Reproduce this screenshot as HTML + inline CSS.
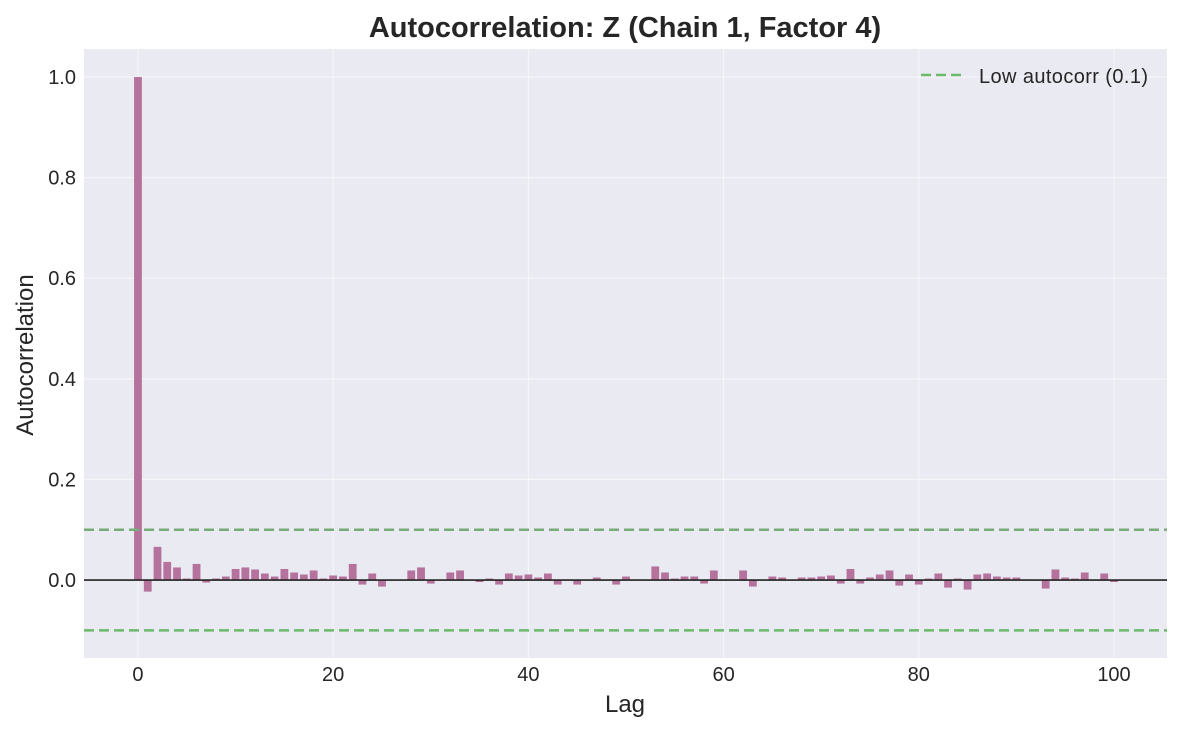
<!DOCTYPE html>
<html><head><meta charset="utf-8"><style>
body{margin:0;background:#fff;font-family:"Liberation Sans",sans-serif}
svg text{font-family:"Liberation Sans",sans-serif;fill:#262626}
</style></head><body>
<svg id="chart" width="1182" height="732" viewBox="0 0 1182 732" xmlns="http://www.w3.org/2000/svg">
<rect x="84" y="49" width="1083" height="609" fill="#eaeaf2"/>
<g id="grid"></g>
<g id="bars"></g>
<g id="ref"></g>
<g id="ticks"></g>
<text x="625" y="37" text-anchor="middle" font-size="29" font-weight="bold">Autocorrelation: Z (Chain 1, Factor 4)</text>
<text x="625" y="712" text-anchor="middle" font-size="24">Lag</text>
<text transform="translate(33,355) rotate(-90)" text-anchor="middle" font-size="24">Autocorrelation</text>
<g>
<line x1="921" y1="75" x2="963" y2="75" stroke="#6cb96c" stroke-width="2.5" stroke-dasharray="10,5"/>
<text x="979" y="83" font-size="20" textLength="169">Low autocorr (0.1)</text>
</g>
</svg>
<script>
const lags = Array.from({length:101},(_, i)=>i);
const acf = [1.0,-0.023,0.066,0.036,0.025,0.003,0.032,-0.005,0.003,0.007,0.022,0.025,0.021,0.013,0.007,0.022,0.015,0.011,0.019,0.003,0.009,0.007,0.032,-0.009,0.013,-0.013,
-0.001,0,0.019,0.025,-0.007,0,0.015,0.019,0.001,-0.004,0.003,-0.009,0.013,0.009,0.011,0.005,0.013,-0.009,0,-0.009,0,0.005,0.001,-0.009,0.007,0.001,
0,0.027,0.015,0.003,0.007,0.007,-0.007,0.019,0,0,0.019,-0.013,0,0.007,0.005,0,0.005,0.005,0.007,0.009,-0.007,0.022,-0.007,0.005,0.011,0.019,-0.011,
0.011,-0.009,0.003,0.013,-0.015,0.003,-0.019,0.011,0.013,0.007,0.005,0.005,0,-0.001,-0.017,0.021,0.005,0.003,0.015,0,0.013,-0.004];
const yTicks = [0.0,0.2,0.4,0.6,0.8,1.0];
const xTicks = [0,20,40,60,80,100];
const threshold = [0.1,-0.1];
const NS="http://www.w3.org/2000/svg";
const X0=84,X1=1167,Y0=49,Y1=658;
const xMin=-5.53,xMax=105.43,yMin=-0.155,yMax=1.0557;
const xs=v=>X0+(v-xMin)/(xMax-xMin)*(X1-X0);
const ys=v=>Y1-(v-yMin)/(yMax-yMin)*(Y1-Y0);
function mk(tag,attrs,parent){const e=document.createElementNS(NS,tag);for(const k in attrs)e.setAttribute(k,attrs[k]);document.getElementById(parent).appendChild(e);return e;}
yTicks.forEach(t=>{
  const l=mk('line',{x1:X0,x2:X1,y1:ys(t),y2:ys(t),stroke:'#f7f7fa','stroke-width':1},'grid');
  
  
  const tx=mk('text',{x:76,y:ys(t)+7,'text-anchor':'end','font-size':20},'ticks');
  tx.textContent=t.toFixed(1);
  
  
});
xTicks.forEach(t=>{
  const l=mk('line',{x1:xs(t),x2:xs(t),y1:Y0,y2:Y1,stroke:'#f7f7fa','stroke-width':1},'grid');
  
  
  const tx=mk('text',{x:xs(t),y:681,'text-anchor':'middle','font-size':20},'ticks');
  tx.textContent=t;
  
  
});
const bw=xs(0.8)-xs(0);
lags.forEach((lag,i)=>{
  const v=acf[i];const a=ys(Math.max(v,0)),b=ys(Math.min(v,0));
  const r=mk('rect',{x:xs(lag)-bw/2,y:a,width:bw,height:Math.max(b-a,0.01),fill:'#b5729c'},'bars');
  
  
});
const z=mk('line',{x1:X0,x2:X1,y1:ys(0),y2:ys(0),stroke:'#222','stroke-width':1.6},'ref');


threshold.forEach(t=>{
  const l=mk('line',{x1:X0,x2:X1,y1:ys(t),y2:ys(t),stroke:t>0?'#77ab77':'#6cb96c','stroke-width':2.5,'stroke-dasharray':'10,5'},'ref');
  
  
});
</script>
</body></html>
